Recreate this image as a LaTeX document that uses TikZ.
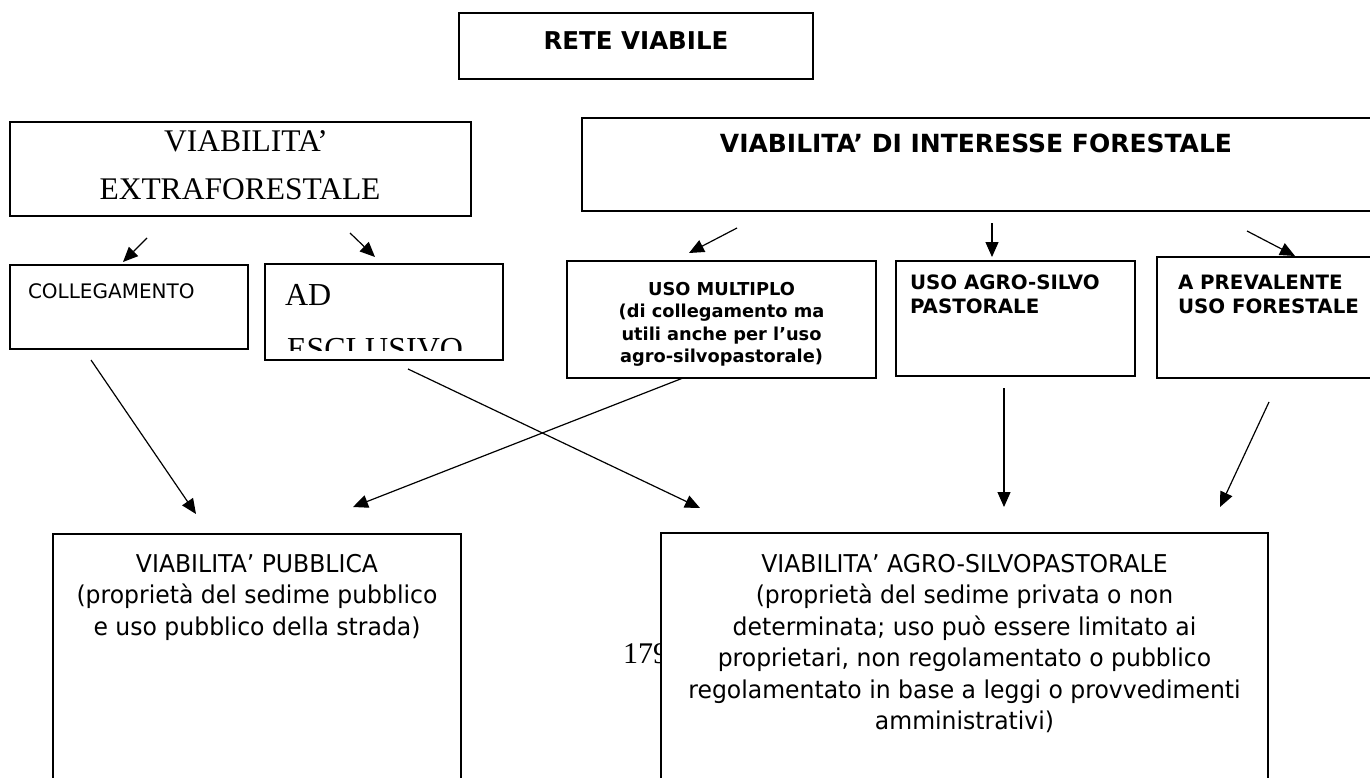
\documentclass[tikz,border=0pt]{standalone}
\usepackage{fontspec}
\setmainfont{Liberation Serif}
\newfontfamily\vsans{DejaVu Sans}
\newfontfamily\vsansn[FakeStretch=0.96]{DejaVu Sans}
\usetikzlibrary{arrows.meta}
\tikzset{
  box/.style={draw, line width=1.6pt, fill=white, inner sep=0pt, outer sep=0pt},
  arr/.style={line width=1.2pt, -{Triangle[length=15pt,width=13pt]}},
  txt/.style={inner sep=0pt, outer sep=0pt, anchor=base},
  txtw/.style={inner sep=0pt, outer sep=0pt, anchor=base west},
  sbhead/.style={font=\vsans\bfseries\fontsize{24.5}{28}\selectfont},
  sbhead2/.style={font=\vsans\bfseries\fontsize{25}{29}\selectfont},
  sbmid/.style={font=\vsans\bfseries\fontsize{19.8}{23}\selectfont},
  sbsmall/.style={font=\vsans\bfseries\fontsize{17.8}{22}\selectfont},
  srmid/.style={font=\vsans\fontsize{20}{24}\selectfont},
  srbig/.style={font=\vsansn\fontsize{24.5}{29}\selectfont},
  serbig/.style={font=\fontsize{31.5}{36}\selectfont},
  serhuge/.style={font=\fontsize{32}{38}\selectfont},
}
\begin{document}
\begin{tikzpicture}[x=1pt,y=-1pt]
\useasboundingbox (0,0) rectangle (1370,778);
\clip (0,0) rectangle (1370,778);

% page number partly hidden behind the box
\node[txtw, font=\fontsize{30}{34}\selectfont] (pnum) at (623,663) {179};

% boxes
\node[box, minimum width=354pt, minimum height=66pt] (rete) at (636,46) {};
\node[box, minimum width=461pt, minimum height=94pt] (extra) at (240.5,169) {};
\node[box, minimum width=793pt, minimum height=93pt] (inter) at (978.5,164.5) {};
\node[box, minimum width=238pt, minimum height=84pt] (coll) at (129,307) {};
\node[box, minimum width=238pt, minimum height=96pt] (adesc) at (384,312) {};
\node[box, minimum width=309pt, minimum height=117pt] (multi) at (721.5,319.5) {};
\node[box, minimum width=239pt, minimum height=115pt] (asp) at (1015.5,318.5) {};
\node[box, minimum width=218pt, minimum height=121pt] (prev) at (1266,317.5) {};
\node[box, minimum width=408pt, minimum height=266pt] (pubb) at (257,667) {};
\node[box, minimum width=607pt, minimum height=267pt] (agro) at (964.5,666.5) {};

% texts
\node[txt, sbhead] (treteviab) at (636,50) {RETE VIABILE};
\node[txt, sbhead2] (tinter) at (976,153) {VIABILITA’ DI INTERESSE FORESTALE};
\node[txt, serbig] (textra1) at (246,152) {VIABILITA’};
\node[txt, serbig] (textra2) at (240,200) {EXTRAFORESTALE};
\node[txtw, srmid] (tcoll) at (28,298) {COLLEGAMENTO};
\node[txtw, serhuge] (tad) at (285,305) {AD};
\begin{scope}
  \clip (266,265) rectangle (502,350);
  \node[txtw, serhuge] (tesc) at (287,359) {ESCLUSIVO};
\end{scope}
\begin{scope}
  \clip (568,262) rectangle (875,365);
  \node[txt, sbsmall] (tm1) at (721.5,295) {USO MULTIPLO};
  \node[txt, sbsmall] (tm2) at (721.5,317.5) {(di collegamento ma};
  \node[txt, sbsmall] (tm3) at (721.5,340) {utili anche per l’uso};
  \node[txt, sbsmall] (tm4) at (721.5,362.5) {agro-silvopastorale)};
\end{scope}
\node[txtw, sbmid] (ta1) at (910,289) {USO AGRO-SILVO};
\node[txtw, sbmid] (ta2) at (910,313) {PASTORALE};
\node[txtw, sbmid] (tp1) at (1178,289) {A PREVALENTE};
\node[txtw, sbmid] (tp2) at (1178,313) {USO FORESTALE};

\node[txt, srbig] (tpb1) at (257,572) {VIABILITA’ PUBBLICA};
\node[txt, srbig] (tpb2) at (257,603.5) {(proprietà del sedime pubblico};
\node[txt, srbig] (tpb3) at (257,635) {e uso pubblico della strada)};

\node[txt, srbig] (tag1) at (964.5,572) {VIABILITA’ AGRO-SILVOPASTORALE};
\node[txt, srbig] (tag2) at (964.5,603.5) {(proprietà del sedime privata o non};
\node[txt, srbig] (tag3) at (964.5,635) {determinata; uso può essere limitato ai};
\node[txt, srbig] (tag4) at (964.5,666.5) {proprietari, non regolamentato o pubblico};
\node[txt, srbig] (tag5) at (964.5,698) {regolamentato in base a leggi o provvedimenti};
\node[txt, srbig] (tag6) at (964.5,729.5) {amministrativi)};

% arrow end points (arrows float between boxes)
\coordinate (a1s) at (147,238);  \coordinate (a1e) at (123,262);
\coordinate (a2s) at (350,233);  \coordinate (a2e) at (375,257);
\coordinate (a3s) at (737,228);  \coordinate (a3e) at (689,253);
\coordinate (a4s) at (992,223);  \coordinate (a4e) at (992,257);
\coordinate (a5s) at (1247,231); \coordinate (a5e) at (1295,256);
\coordinate (a6s) at (91,360);   \coordinate (a6e) at (196,514);
\coordinate (a7s) at (408,369);  \coordinate (a7e) at (700,508);
\coordinate (a8s) at (683,378);  \coordinate (a8e) at (353,507);
\coordinate (a9s) at (1004,388); \coordinate (a9e) at (1004,507);
\coordinate (a10s) at (1269,402); \coordinate (a10e) at (1220,507);

\draw[arr] (a1s) -- (a1e);
\draw[arr] (a2s) -- (a2e);
\draw[arr] (a3s) -- (a3e);
\draw[arr] (a4s) -- (a4e);
\draw[arr] (a5s) -- (a5e);
\draw[arr] (a6s) -- (a6e);
\draw[arr] (a7s) -- (a7e);
\draw[arr] (a8s) -- (a8e);
\draw[arr] (a9s) -- (a9e);
\draw[arr] (a10s) -- (a10e);
\end{tikzpicture}
\end{document}
